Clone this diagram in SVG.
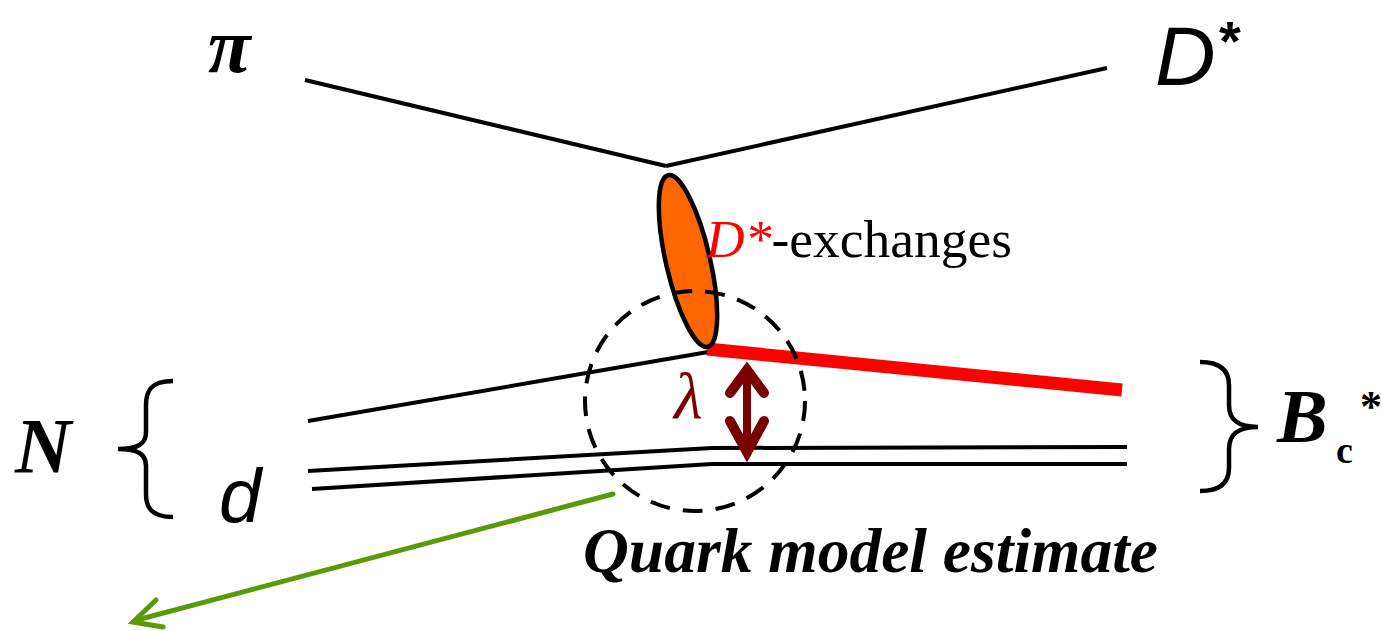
<svg xmlns="http://www.w3.org/2000/svg" width="1382" height="631" viewBox="0 0 1382 631">
<style>
.ln{fill:none;stroke:#000;stroke-width:4;stroke-linecap:butt}
.br{fill:none;stroke:#000;stroke-width:4.5}
.serif{font-family:"Liberation Serif","Times New Roman",serif}
.sans{font-family:"Liberation Sans",Arial,sans-serif}
.dr{fill:none;stroke:#7a0000;stroke-width:10;stroke-linecap:round;stroke-linejoin:miter;stroke-miterlimit:10}
</style>
<rect width="1382" height="631" fill="#fff"/>
<g id="connectors">
<line class="ln" x1="305" y1="80" x2="666" y2="166"/>
<line class="ln" x1="666" y1="166" x2="1107" y2="68"/>
<line class="ln" x1="308" y1="421" x2="708" y2="352"/>
<polyline class="ln" points="308,471 712,448 1127,447"/>
<polyline class="ln" points="312,489 712,464 1127,464"/>
<line x1="707" y1="349" x2="1122" y2="390" stroke="#ff0000" stroke-width="13"/>
<g id="green-arrow" fill="none" stroke="#5a9a08" stroke-width="5" stroke-linecap="round" stroke-linejoin="miter">
<line x1="613" y1="494" x2="137" y2="620"/>
<polyline points="156,600 133,622 163,627"/>
</g>
</g>
<g id="exchange-blob">
<ellipse cx="688" cy="261" rx="22" ry="88" transform="rotate(-13 688 261)" fill="#ff6600" stroke="#000" stroke-width="4.5"/>
</g>
<g id="quark-circle">
<circle cx="695" cy="401" r="110" fill="none" stroke="#000" stroke-width="4" stroke-dasharray="20 13"/>
</g>
<g id="lambda-arrow">
<line x1="747" y1="372" x2="747" y2="450" stroke="#7a0000" stroke-width="8"/>
<polyline class="dr" points="730,393 747,370 764,393"/>
<polyline class="dr" points="730,421 747,452 764,421"/>
<text x="674" y="418" class="serif" font-style="italic" font-size="66" fill="#7a0000">λ</text>
</g>
<g id="label-pi"><text x="208" y="72" class="serif" font-style="italic" font-weight="bold" font-size="78">π</text></g>
<g id="label-Dstar"><text x="1155" y="85" class="sans" font-style="italic" font-size="84">D</text><text x="1219" y="60" class="sans" font-weight="bold" font-size="56">*</text></g>
<g id="label-exchanges"><text x="706" y="257" class="serif" font-size="53.5"><tspan fill="#ff0000" font-style="italic">D*</tspan><tspan fill="#000">-exchanges</tspan></text></g>
<g id="label-N">
<text x="15" y="472" class="serif" font-style="italic" font-weight="bold" font-size="78">N</text>
<path class="br" d="M173,381 C150,381 146,392 146,405 L146,432 C146,444 138,449 118,449 C138,449 146,454 146,466 L146,494 C146,506 150,517 173,517"/>
</g>
<g id="label-d"><text x="219" y="522" class="sans" font-style="italic" font-size="76">d</text></g>
<g id="label-Bc">
<path class="br" d="M1200,362 C1222,362 1229,372 1229,385 L1229,405 C1229,420 1238,427 1258,427 C1238,427 1229,434 1229,449 L1229,468 C1229,481 1222,491 1200,491"/>
<text x="1277" y="442" class="serif" font-style="italic" font-weight="bold" font-size="76">B</text>
<text x="1336" y="463" class="serif" font-weight="bold" font-size="38">c</text>
<text x="1360" y="421" class="serif" font-weight="bold" font-size="44">*</text>
</g>
<g id="label-quark"><text x="583" y="572" class="serif" font-style="italic" font-weight="bold" font-size="63.5">Quark model estimate</text></g>
</svg>
